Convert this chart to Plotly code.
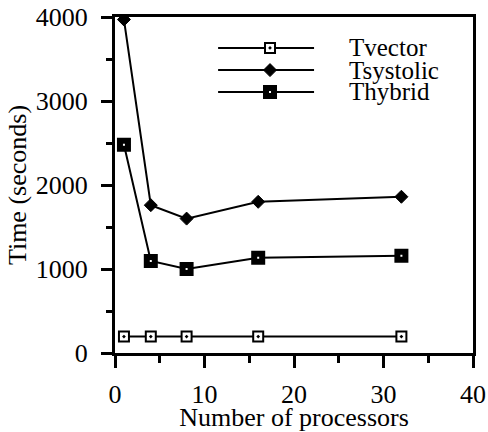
import plotly.graph_objects as go

processors = [1, 4, 8, 16, 32]
t_vector = [195, 195, 195, 195, 195]
t_systolic = [3970, 1760, 1600, 1800, 1860]
t_hybrid = [2480, 1095, 1000, 1135, 1158]

series_names = ["Tvector", "Tsystolic", "Thybrid"]
x_ticks = [0, 10, 20, 30, 40]
y_ticks = [0, 1000, 2000, 3000, 4000]

FONT = "'Liberation Serif'"

marker_styles = [
    dict(symbol="square-dot", size=10, color="white", line=dict(color="black", width=2)),
    dict(symbol="diamond", size=10, color="black", line=dict(color="black", width=1)),
    dict(symbol="square", size=8, color="white", line=dict(color="black", width=6)),
]

fig = go.Figure()
for name, ys, mk in zip(series_names, [t_vector, t_systolic, t_hybrid], marker_styles):
    fig.add_trace(go.Scatter(
        x=processors, y=ys, name=name, mode="lines+markers",
        line=dict(color="black", width=2), marker=mk, showlegend=False,
    ))

# Custom legend (paper coordinates) with long sample lines like the original
leg_x0, leg_x1, leg_xm, leg_xt = 0.288, 0.556, 0.433, 0.648
leg_rows = [0.908, 0.842, 0.777]
for name, yr, mk in zip(series_names, leg_rows, marker_styles):
    fig.add_shape(type="line", xref="paper", yref="paper",
                  x0=leg_x0, x1=leg_x1, y0=yr, y1=yr,
                  line=dict(color="black", width=2), layer="below")
    fig.add_trace(go.Scatter(
        x=[leg_xm], y=[yr], mode="markers", marker=mk,
        xaxis="x2", yaxis="y2", showlegend=False, hoverinfo="skip",
    ))
    fig.add_annotation(x=leg_xt, y=yr, xref="paper", yref="paper",
                       text=name, showarrow=False, xanchor="left", yanchor="middle",
                       font=dict(family=FONT, size=25, color="black"))

axis_common = dict(
    showline=True, linecolor="black", linewidth=3, mirror=True,
    ticks="outside", tickcolor="black", tickwidth=3,
    showgrid=False, zeroline=False, automargin=False,
    ticklabeloverflow="allow",
    tickfont=dict(family=FONT, size=26, color="black"),
    title_font=dict(family=FONT, size=26, color="black"),
)

fig.update_xaxes(
    range=[0, 40], tickvals=x_ticks, ticklen=12,
    minor=dict(dtick=5, ticks="outside", ticklen=7, tickwidth=3, tickcolor="black"),
    title_text="Number of processors", title_standoff=2,
    ticklabelstandoff=4,
    **axis_common,
)
fig.update_yaxes(
    range=[0, 4000], tickvals=y_ticks, ticklen=11,
    minor=dict(dtick=500, ticks="outside", ticklen=6, tickwidth=3, tickcolor="black"),
    title_text="Time (seconds)", title_standoff=2,
    ticklabelstandoff=8,
    **axis_common,
)

W, H = 488, 432
fig.update_layout(
    width=W, height=H,
    margin=dict(l=115, r=15, t=17, b=79, autoexpand=False),
    paper_bgcolor="white", plot_bgcolor="white",
    showlegend=False,
    xaxis2=dict(range=[0, 1], overlaying="x", visible=False, fixedrange=True),
    yaxis2=dict(range=[0, 1], overlaying="y", visible=False, fixedrange=True),
)

fig.write_html(
    "out.html",
    config={"displayModeBar": False},
    post_script="document.body.style.margin='0';document.body.style.overflow='hidden';",
)
